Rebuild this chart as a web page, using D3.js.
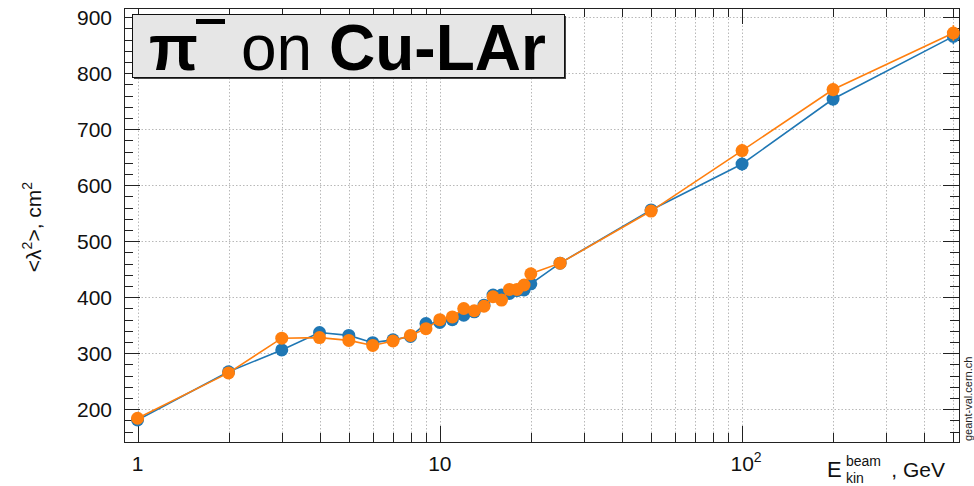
<!DOCTYPE html>
<html>
<head>
<meta charset="utf-8">
<script src="https://cdn.jsdelivr.net/npm/d3@7"></script>
<style>
  html, body { margin: 0; padding: 0; background: #fff; }
  svg { display: block; font-family: "Liberation Sans", Arial, sans-serif; }
</style>
</head>
<body>
<svg id="chart" width="974" height="486"></svg>
<script>
// Beam kinetic energy, GeV
const energies = [1, 2, 3, 4, 5, 6, 7, 8, 9, 10, 11, 12, 13, 14, 15, 16, 17, 18, 19, 20, 25, 50, 100, 200, 500];
// <lambda^2>, cm^2 for the two model series
const seriesBlue   = [181, 267, 306, 337, 332, 319, 324, 330, 353, 355, 360, 368, 374, 386, 404, 404, 407, 412, 413, 424, 461, 556, 638, 754, 866];
const seriesOrange = [184, 265, 327, 328, 323, 314, 322, 332, 344, 360, 365, 380, 376, 384, 401, 395, 414, 414, 422, 442, 461, 554, 662, 771, 872];
// statistical uncertainties
const errBlue   = [3, 3, 3, 3, 3, 3, 3, 3, 3, 3, 3, 3, 3, 3, 3, 3, 3, 3, 3, 3, 4, 6, 12, 12, 14];
const errOrange = [3, 3, 3, 3, 3, 3, 3, 3, 3, 3, 3, 3, 3, 3, 3, 3, 3, 3, 3, 3, 4, 6, 12, 12, 14];
// axis ticks
const yMajorTicks = [200, 300, 400, 500, 600, 700, 800, 900];
const xLabelTicks = [1, 10, 100];

const svg = d3.select("#chart");
const frame = { left: 124, right: 959, top: 8, bottom: 442 };

const x = d3.scaleLog().domain([0.902, 522]).range([frame.left, frame.right]);
const y = d3.scaleLinear().domain([141.6, 916.6]).range([frame.bottom, frame.top]);

// minor/major tick values
const xTicks = [];
for (let dec = 1; dec <= 100; dec *= 10) {
  for (let m = 1; m <= 9; m++) {
    const v = m * dec;
    if (v >= x.domain()[0] && v <= x.domain()[1]) xTicks.push(v);
  }
}
const xMajor = xTicks.filter(v => Math.abs(Math.log10(v) - Math.round(Math.log10(v))) < 1e-9);
const yMinor = d3.range(160, 917, 20).filter(v => !yMajorTicks.includes(v));

// grid
const grid = svg.append("g").attr("stroke", "#b8b8b8").attr("stroke-width", 1).attr("stroke-dasharray", "1.5,2");
grid.selectAll(".gx").data(xTicks).join("line")
  .attr("x1", d => Math.round(x(d)) + 0.5).attr("x2", d => Math.round(x(d)) + 0.5)
  .attr("y1", frame.top).attr("y2", frame.bottom);
grid.selectAll(".gy").data(yMajorTicks).join("line")
  .attr("x1", frame.left).attr("x2", frame.right)
  .attr("y1", d => Math.round(y(d)) + 0.5).attr("y2", d => Math.round(y(d)) + 0.5);

// ticks on all four sides, pointing inward
const tickG = svg.append("g").attr("stroke", "#222").attr("stroke-width", 1);
const majorLen = 16, minorLen = 9;
function xTickLen(d) { return xMajor.includes(d) ? majorLen : minorLen; }
tickG.selectAll(".tb").data(xTicks).join("line")
  .attr("x1", d => Math.round(x(d)) + 0.5).attr("x2", d => Math.round(x(d)) + 0.5)
  .attr("y1", frame.bottom).attr("y2", d => frame.bottom - xTickLen(d));
tickG.selectAll(".tt").data(xTicks).join("line")
  .attr("x1", d => Math.round(x(d)) + 0.5).attr("x2", d => Math.round(x(d)) + 0.5)
  .attr("y1", frame.top).attr("y2", d => frame.top + xTickLen(d));
const yAll = yMajorTicks.map(v => ({ v, len: majorLen })).concat(yMinor.map(v => ({ v, len: minorLen })));
tickG.selectAll(".tl").data(yAll).join("line")
  .attr("y1", d => Math.round(y(d.v)) + 0.5).attr("y2", d => Math.round(y(d.v)) + 0.5)
  .attr("x1", frame.left).attr("x2", d => frame.left + d.len);
tickG.selectAll(".tr").data(yAll).join("line")
  .attr("y1", d => Math.round(y(d.v)) + 0.5).attr("y2", d => Math.round(y(d.v)) + 0.5)
  .attr("x1", frame.right).attr("x2", d => frame.right - d.len);

// frame
svg.append("rect")
  .attr("x", frame.left + 0.5).attr("y", frame.top + 0.5)
  .attr("width", frame.right - frame.left).attr("height", frame.bottom - frame.top)
  .attr("fill", "none").attr("stroke", "#222").attr("stroke-width", 1);

// y tick labels
svg.append("g").selectAll("text").data(yMajorTicks).join("text")
  .attr("x", 112).attr("y", d => y(d)).attr("dy", "0.36em")
  .attr("text-anchor", "end").attr("font-size", 21).attr("fill", "#111")
  .text(d => d);

// x tick labels (powers of ten beyond 10 drawn with exponent)
const xl = svg.append("g").attr("font-size", 21).attr("fill", "#111");
xLabelTicks.forEach(v => {
  const p = Math.round(Math.log10(v));
  const t = xl.append("text").attr("y", 471).attr("text-anchor", "middle");
  if (p <= 1) {
    t.attr("x", x(v)).text(v);
  } else {
    t.attr("x", x(v) + 4);
    t.append("tspan").text("10");
    t.append("tspan").attr("font-size", 14).attr("dy", -9).text(p);
  }
});

// x axis title: E with "beam" superscript and "kin" subscript
const xTitle = svg.append("g").attr("fill", "#111");
xTitle.append("text").attr("x", 827).attr("y", 477).attr("font-size", 22).text("E");
xTitle.append("text").attr("x", 846).attr("y", 466).attr("font-size", 14).text("beam");
xTitle.append("text").attr("x", 846).attr("y", 483).attr("font-size", 14).text("kin");
xTitle.append("text").attr("x", 945).attr("y", 477).attr("font-size", 21)
  .attr("text-anchor", "end").text(", GeV");

const yt = svg.append("text").attr("transform", "translate(41,227) rotate(-90)")
  .attr("text-anchor", "middle").attr("font-size", 21).attr("fill", "#111");
yt.append("tspan").text("<λ");
yt.append("tspan").attr("font-size", 14).attr("dy", -9).text("2");
yt.append("tspan").attr("dy", 9).text(">, cm");
yt.append("tspan").attr("font-size", 14).attr("dy", -9).text("2");

// data series
const line = d3.line().x(d => x(d.e)).y(d => y(d.v));
function drawSeries(vals, errs, color) {
  const pts = energies.map((e, i) => ({ e, v: vals[i], err: errs[i] }));
  const g = svg.append("g");
  g.append("path").datum(pts).attr("d", line)
    .attr("fill", "none").attr("stroke", color).attr("stroke-width", 1.6);
  g.selectAll(".err").data(pts).join("line")
    .attr("x1", d => x(d.e)).attr("x2", d => x(d.e))
    .attr("y1", d => y(d.v - d.err)).attr("y2", d => y(d.v + d.err))
    .attr("stroke", color).attr("stroke-width", 1.6);
  g.selectAll("circle").data(pts).join("circle")
    .attr("cx", d => x(d.e)).attr("cy", d => y(d.v)).attr("r", 6.5)
    .attr("fill", color);
}
drawSeries(seriesBlue, errBlue, "#1f77b4");
drawSeries(seriesOrange, errOrange, "#ff7f0e");

// title box
const box = { x: 132, y: 14, w: 432, h: 63 };
svg.append("rect").attr("x", box.x + 2).attr("y", box.y + 2).attr("width", box.w).attr("height", box.h)
  .attr("fill", "#444");
svg.append("rect").attr("x", box.x + 0.5).attr("y", box.y + 0.5).attr("width", box.w).attr("height", box.h)
  .attr("fill", "#e6e6e6").attr("stroke", "#111").attr("stroke-width", 1);
const titleG = svg.append("g").attr("fill", "#000").attr("font-size", 64);
titleG.append("text").attr("x", 149).attr("y", 70).attr("font-weight", "bold").text("π");
// minus sign of the pion charge, drawn as an overbar
titleG.append("rect").attr("x", 196).attr("y", 19).attr("width", 29).attr("height", 5);
titleG.append("text").attr("x", 241).attr("y", 70).text("on");
titleG.append("text").attr("x", 329).attr("y", 70).attr("font-weight", "bold").text("Cu-LAr");

// site tag
svg.append("text").attr("transform", "translate(972,441) rotate(-90)")
  .attr("font-size", 11).attr("fill", "#222").text("geant-val.cern.ch");
</script>
</body>
</html>
